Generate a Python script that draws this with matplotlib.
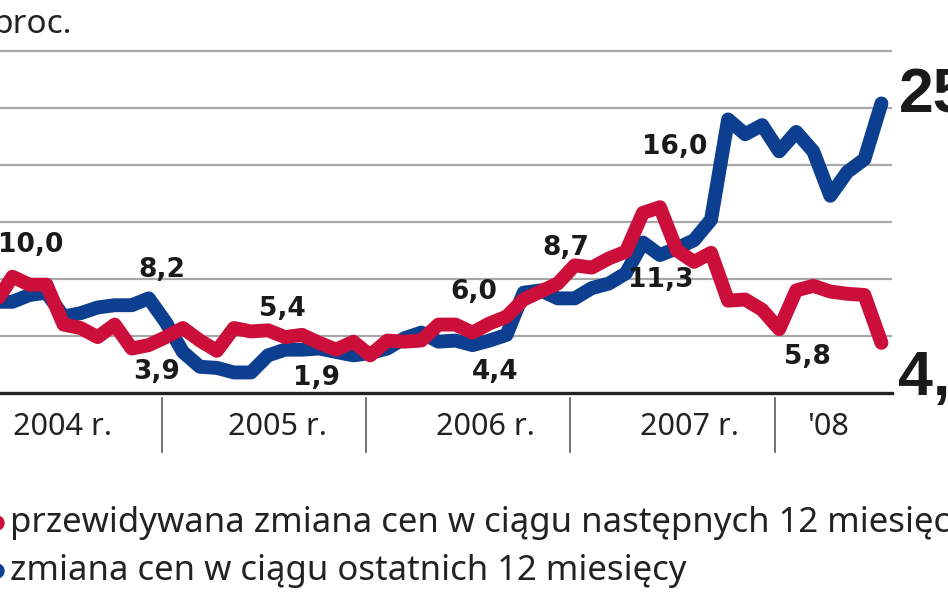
import matplotlib
matplotlib.use("Agg")
import matplotlib.pyplot as plt
from matplotlib.patches import Ellipse

# ===== Data (monthly, Jan 2004 .. Jul 2008) =====
expected = [7.0, 7.4, 7.9, 10.2, 9.5, 9.5, 6.0, 5.7, 4.9, 6.0,
            3.9, 4.2, 4.9, 5.7, 4.6, 3.7, 5.7, 5.4, 5.5, 4.9,
            5.1, 4.4, 3.8, 4.5, 3.3, 4.6, 4.5, 4.6, 6.0, 6.0,
            5.3, 6.1, 6.7, 8.2, 8.9, 9.6, 11.2, 11.0, 11.8, 12.4,
            15.8, 16.3, 12.5, 11.5, 12.3, 8.1, 8.2, 7.3, 5.6, 9.0,
            9.4, 8.9, 8.7, 8.6, 4.4]
past = [7.5, 7.8, 8.0, 8.0, 8.6, 8.8, 6.7, 7.0, 7.5, 7.7,
        7.7, 8.3, 6.2, 3.6, 2.3, 2.2, 1.8, 1.8, 3.3, 3.8,
        3.8, 3.9, 3.6, 3.3, 3.5, 3.9, 4.8, 5.3, 4.5, 4.6,
        4.2, 4.6, 5.1, 8.8, 9.0, 8.3, 8.3, 9.2, 9.6, 10.5,
        13.2, 12.1, 12.7, 13.4, 15.2, 24.0, 22.7, 23.5, 21.2, 22.9,
        21.2, 17.3, 19.4, 20.5, 25.4]
year_labels = ["2004 r.", "2005 r.", "2006 r.", "2007 r.", "'08"]
point_labels = ["10,0", "8,2", "3,9", "5,4", "1,9", "6,0", "4,4",
                "8,7", "11,3", "16,0", "5,8"]
legend_labels = ["przewidywana zmiana cen w ciągu następnych 12 miesięcy",
                 "zmiana cen w ciągu ostatnich 12 miesięcy"]

RED = "#cc0f3a"
BLUE = "#0c3f8f"

# ===== Layout =====
year_x = [6.2, 18.8, 31.0, 43.0, 51.1]
label_pos = [(4.3, 13.0), (12.0, 10.8), (11.7, 1.8), (19.1, 7.4), (21.1, 1.3),
             (30.3, 8.9), (31.6, 1.8), (35.7, 12.7), (41.3, 9.9), (42.1, 21.6),
             (49.9, 3.2)]

x = [i + 0.25 for i in range(len(past))]

fig = plt.figure(figsize=(9.48, 5.93), dpi=100)
ax = fig.add_axes([0, 0.3373, 892 / 948, 0.6151])
ax.set_xlim(2.52, 54.87)
ax.set_ylim(0, 32)
ax.axis("off")

for g in range(5, 35, 5):
    ax.axhline(g, color="#a8a8a8", lw=1.6, zorder=1)
ax.axhline(0, color="#222222", lw=2.4, zorder=1, clip_on=False)

ax.plot(x, past, color=BLUE, lw=10, solid_capstyle="round",
        solid_joinstyle="round", zorder=3)
ax.plot(x, expected, color=RED, lw=10, solid_capstyle="round",
        solid_joinstyle="round", zorder=4)

# year dividers and labels
for yr in [12, 24, 36, 48]:
    ax.plot([yr, yr], [-0.45, -5.2], color="#5a5a5a", lw=1.2, clip_on=False)
for xl, lab in zip(year_x, year_labels):
    ax.text(xl, -3.68, lab, ha="center", va="baseline", fontsize=22,
            family="Noto Sans", color="#222222")

# value labels
for (lx, ly), lab in zip(label_pos, point_labels):
    ax.text(lx, ly, lab, ha="center", va="center", fontsize=19,
            fontweight="bold", family="DejaVu Sans", color="#1a1a1a", zorder=5)

# end values (cut by the right edge, as in the original)
end_font = ["Liberation Sans", "DejaVu Sans"]
ax.text(55.3, 24.65, f"{past[-1]:.1f}".replace(".", ","), ha="left",
        va="baseline", fontsize=45, fontweight="bold", family=end_font,
        color="#1a1a1a", clip_on=False)
ax.text(55.2, -0.18, f"{expected[-1]:.1f}".replace(".", ","), ha="left",
        va="baseline", fontsize=45, fontweight="bold", family=end_font,
        color="#1a1a1a", clip_on=False)

# unit
fig.text(-8 / 948, 1 - 33 / 593, "proc.", ha="left", va="baseline",
         fontsize=24, family="Noto Sans", color="#222222")

# legend
for yb, yc, col, lab in [(532, 523, RED, legend_labels[0]),
                         (580, 571, BLUE, legend_labels[1])]:
    fig.add_artist(Ellipse((-3 / 948, 1 - yc / 593), 14 / 948, 14 / 593,
                           color=col, transform=fig.transFigure))
    fig.text(10 / 948, 1 - yb / 593, lab, ha="left", va="baseline",
             fontsize=25, family="Noto Sans", color="#222222")

fig.savefig("out.png", dpi=100)
